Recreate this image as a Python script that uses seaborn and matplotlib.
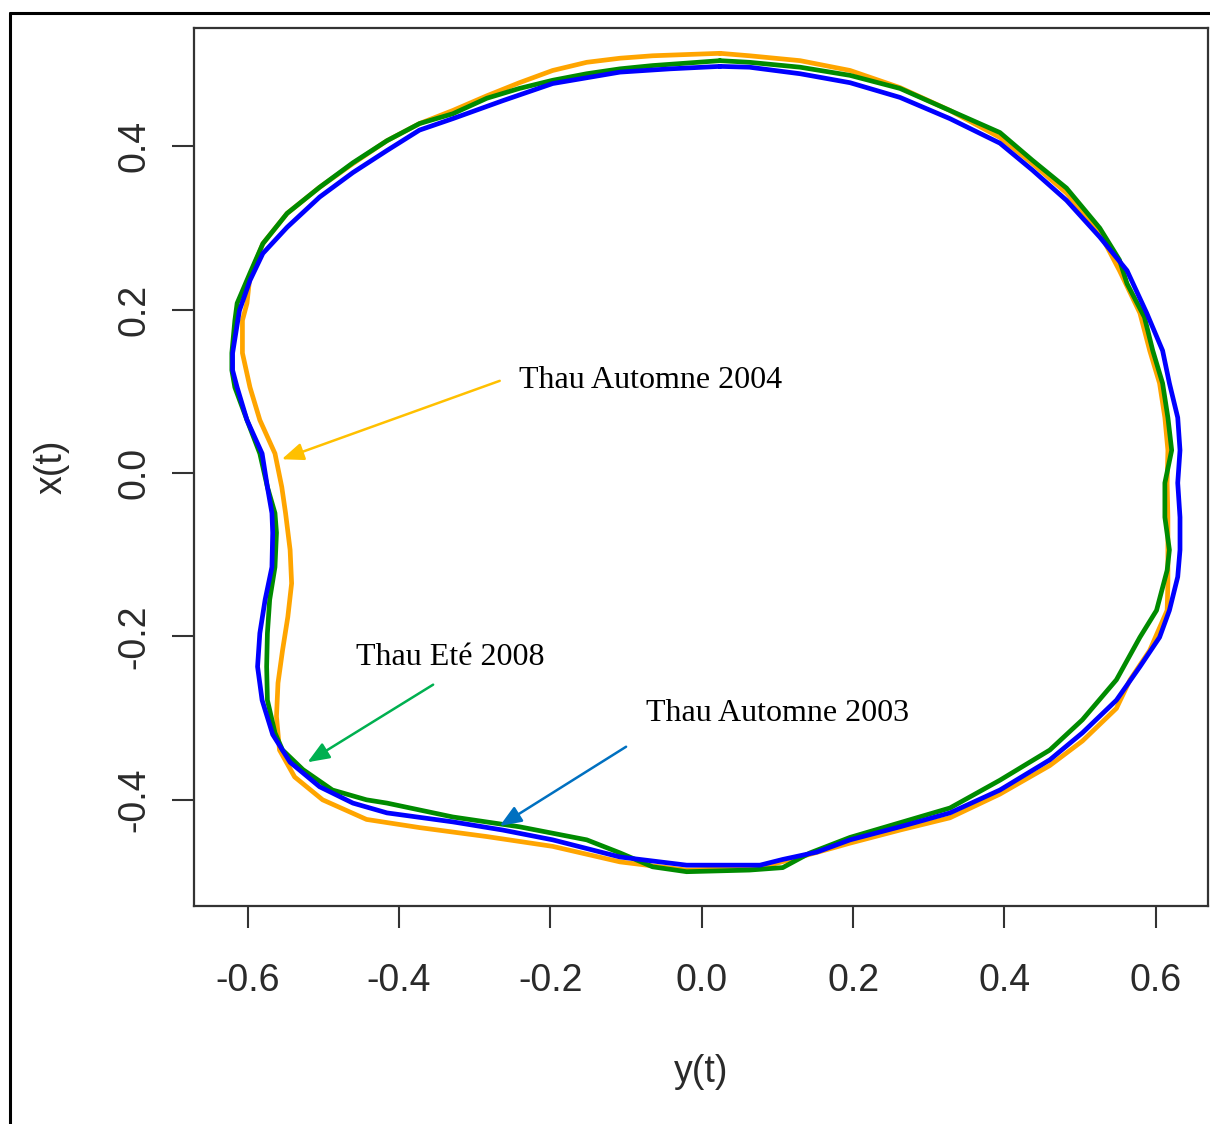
import numpy as np
import pandas as pd
import matplotlib
matplotlib.use("Agg")
import matplotlib.pyplot as plt
from matplotlib.lines import Line2D
import seaborn as sns

sns.set_style("ticks")
plt.rcParams["font.family"] = ["Liberation Sans", "DejaVu Sans"]

# Closed trajectories: horizontal component y(t), vertical component x(t)
automne2003_y = [0.024, -0.042, -0.108, -0.197, -0.263, -0.329, -0.373, -0.416, -0.461, -0.505,
                 -0.548, -0.580, -0.597, -0.611, -0.620, -0.620, -0.614, -0.601, -0.581, -0.574,
                 -0.568, -0.567, -0.568, -0.577, -0.584, -0.587, -0.581, -0.567, -0.544, -0.505,
                 -0.461, -0.416, -0.329, -0.263, -0.197, -0.108, -0.020, 0.077, 0.107, 0.152,
                 0.196, 0.262, 0.328, 0.394, 0.460, 0.503, 0.548, 0.579, 0.605, 0.618,
                 0.629, 0.632, 0.632, 0.629, 0.632, 0.629, 0.618, 0.609, 0.588, 0.562,
                 0.526, 0.482, 0.437, 0.394, 0.328, 0.262, 0.196, 0.130, 0.063]
automne2003_x = [0.498, 0.495, 0.491, 0.477, 0.456, 0.434, 0.420, 0.395, 0.368, 0.338,
                 0.301, 0.269, 0.236, 0.199, 0.147, 0.126, 0.105, 0.065, 0.024, -0.017,
                 -0.049, -0.073, -0.115, -0.155, -0.196, -0.237, -0.278, -0.320, -0.354, -0.384,
                 -0.404, -0.416, -0.427, -0.437, -0.449, -0.470, -0.480, -0.480, -0.473, -0.464,
                 -0.449, -0.433, -0.416, -0.388, -0.351, -0.318, -0.278, -0.237, -0.201, -0.168,
                 -0.127, -0.094, -0.054, -0.012, 0.028, 0.068, 0.110, 0.150, 0.196, 0.248,
                 0.289, 0.334, 0.371, 0.404, 0.434, 0.460, 0.478, 0.489, 0.497]

automne2004_y = [0.024, -0.065, -0.108, -0.152, -0.197, -0.241, -0.284, -0.329, -0.373, -0.416,
                 -0.461, -0.505, -0.548, -0.580, -0.597, -0.601, -0.607, -0.607, -0.597, -0.584,
                 -0.564, -0.555, -0.550, -0.544, -0.542, -0.547, -0.554, -0.560, -0.562, -0.558,
                 -0.538, -0.501, -0.443, -0.373, -0.284, -0.197, -0.108, -0.020, 0.077, 0.130,
                 0.173, 0.196, 0.262, 0.328, 0.394, 0.460, 0.503, 0.548, 0.566, 0.592,
                 0.615, 0.616, 0.616, 0.616, 0.615, 0.616, 0.612, 0.605, 0.592, 0.579,
                 0.552, 0.526, 0.482, 0.437, 0.394, 0.328, 0.262, 0.196, 0.130, 0.063]
automne2004_x = [0.514, 0.511, 0.508, 0.503, 0.493, 0.478, 0.462, 0.444, 0.428, 0.407,
                 0.379, 0.350, 0.318, 0.281, 0.242, 0.208, 0.187, 0.147, 0.105, 0.065,
                 0.024, -0.017, -0.049, -0.094, -0.135, -0.176, -0.217, -0.257, -0.298, -0.339,
                 -0.372, -0.400, -0.424, -0.434, -0.445, -0.457, -0.476, -0.486, -0.483, -0.470,
                 -0.459, -0.453, -0.437, -0.422, -0.393, -0.358, -0.328, -0.288, -0.253, -0.217,
                 -0.168, -0.135, -0.094, -0.054, -0.012, 0.028, 0.068, 0.110, 0.150, 0.196,
                 0.248, 0.294, 0.343, 0.379, 0.411, 0.444, 0.472, 0.493, 0.505, 0.511]

ete2008_y = [0.024, -0.020, -0.065, -0.108, -0.152, -0.197, -0.241, -0.284, -0.329, -0.373,
             -0.416, -0.461, -0.505, -0.548, -0.580, -0.597, -0.614, -0.617, -0.621, -0.621,
             -0.617, -0.601, -0.584, -0.574, -0.564, -0.562, -0.564, -0.571, -0.574, -0.575,
             -0.574, -0.564, -0.554, -0.527, -0.488, -0.443, -0.416, -0.329, -0.241, -0.152,
             -0.108, -0.065, -0.020, 0.063, 0.107, 0.143, 0.196, 0.262, 0.328, 0.394,
             0.460, 0.503, 0.548, 0.579, 0.601, 0.615, 0.618, 0.612, 0.612, 0.621,
             0.616, 0.609, 0.596, 0.585, 0.562, 0.552, 0.526, 0.482, 0.437, 0.394,
             0.328, 0.262, 0.196, 0.130, 0.063]
ete2008_x = [0.505, 0.502, 0.499, 0.495, 0.489, 0.481, 0.471, 0.459, 0.440, 0.428,
             0.407, 0.380, 0.350, 0.318, 0.281, 0.245, 0.208, 0.187, 0.147, 0.126,
             0.105, 0.065, 0.024, -0.017, -0.049, -0.073, -0.115, -0.155, -0.196, -0.237,
             -0.278, -0.318, -0.339, -0.363, -0.388, -0.400, -0.404, -0.421, -0.433, -0.449,
             -0.465, -0.482, -0.488, -0.486, -0.483, -0.465, -0.446, -0.428, -0.410, -0.376,
             -0.339, -0.302, -0.253, -0.201, -0.168, -0.119, -0.094, -0.054, -0.012, 0.028,
             0.068, 0.110, 0.150, 0.191, 0.232, 0.261, 0.300, 0.349, 0.383, 0.417,
             0.444, 0.471, 0.487, 0.497, 0.503]

series_names = ["Thau Automne 2004", "Thau Eté 2008", "Thau Automne 2003"]
series_colors = ["#FFA500", "#008B00", "#0000FF"]
x_ticks = [-0.6, -0.4, -0.2, 0.0, 0.2, 0.4, 0.6]
y_ticks = [-0.4, -0.2, 0.0, 0.2, 0.4]


def closed_frame(name, ys, xs):
    ys = list(ys) + [ys[0]]
    xs = list(xs) + [xs[0]]
    return pd.DataFrame({"y_t": ys, "x_t": xs, "series": name, "step": range(len(ys))})


df = pd.concat([
    closed_frame(series_names[0], automne2004_y, automne2004_x),
    closed_frame(series_names[1], ete2008_y, ete2008_x),
    closed_frame(series_names[2], automne2003_y, automne2003_x),
], ignore_index=True)

fig = plt.figure(figsize=(12.10, 11.24), dpi=100)
ax = fig.add_axes([194 / 1210, 1 - 906 / 1124, (1208 - 194) / 1210, (906 - 28) / 1124])

sns.lineplot(data=df, x="y_t", y="x_t", hue="series", units="series", estimator=None,
             sort=False, palette=dict(zip(series_names, series_colors)),
             hue_order=series_names, linewidth=3.4, legend=False, ax=ax)

ax.set_xlim(-0.671, 0.669)
ax.set_ylim(-0.530, 0.545)
ax.set_xticks(x_ticks)
ax.set_yticks(y_ticks)
ax.set_xticklabels([f"{v:.1f}" for v in x_ticks])
ax.set_yticklabels([f"{v:.1f}" for v in y_ticks], rotation=90, va="center")

label_color = "#2a2a2a"
for sp in ax.spines.values():
    sp.set_visible(True)
    sp.set_color("#333333")
    sp.set_linewidth(1.6)
ax.tick_params(axis="both", direction="out", length=16, width=1.5, color="#333333",
               labelsize=27, labelcolor=label_color)
ax.tick_params(axis="x", pad=25)
ax.tick_params(axis="y", pad=14)

ax.set_xlabel("y(t)", fontsize=27, color=label_color, labelpad=40)
ax.set_ylabel("x(t)", fontsize=27, color=label_color, labelpad=34)

# Callouts naming each trajectory
callouts = [
    ("Thau Automne 2004", (-0.241, 0.114), (-0.267, 0.113), (-0.555, 0.017), "#FFC000"),
    ("Thau Eté 2008", (-0.457, -0.226), (-0.355, -0.259), (-0.521, -0.354), "#00B050"),
    ("Thau Automne 2003", (-0.074, -0.294), (-0.100, -0.335), (-0.267, -0.432), "#0070C0"),
]
for text, tpos, start, end, col in callouts:
    ax.text(tpos[0], tpos[1], text, fontsize=23, family=["Liberation Serif", "DejaVu Serif"],
            color="black", ha="left", va="center")
    ax.annotate("", xy=end, xytext=start,
                arrowprops=dict(arrowstyle="-|>,head_length=0.55,head_width=0.22", color=col,
                                lw=1.8, mutation_scale=24, shrinkA=0, shrinkB=0))

# Outer frame
fx = 10 / 1210
fy = 1 - 13 / 1124
fig.add_artist(Line2D([fx, fx], [0, fy], transform=fig.transFigure, color="black", lw=2.2))
fig.add_artist(Line2D([fx, 1], [fy, fy], transform=fig.transFigure, color="black", lw=2.2))

fig.savefig("out.png", dpi=100, facecolor="white")
